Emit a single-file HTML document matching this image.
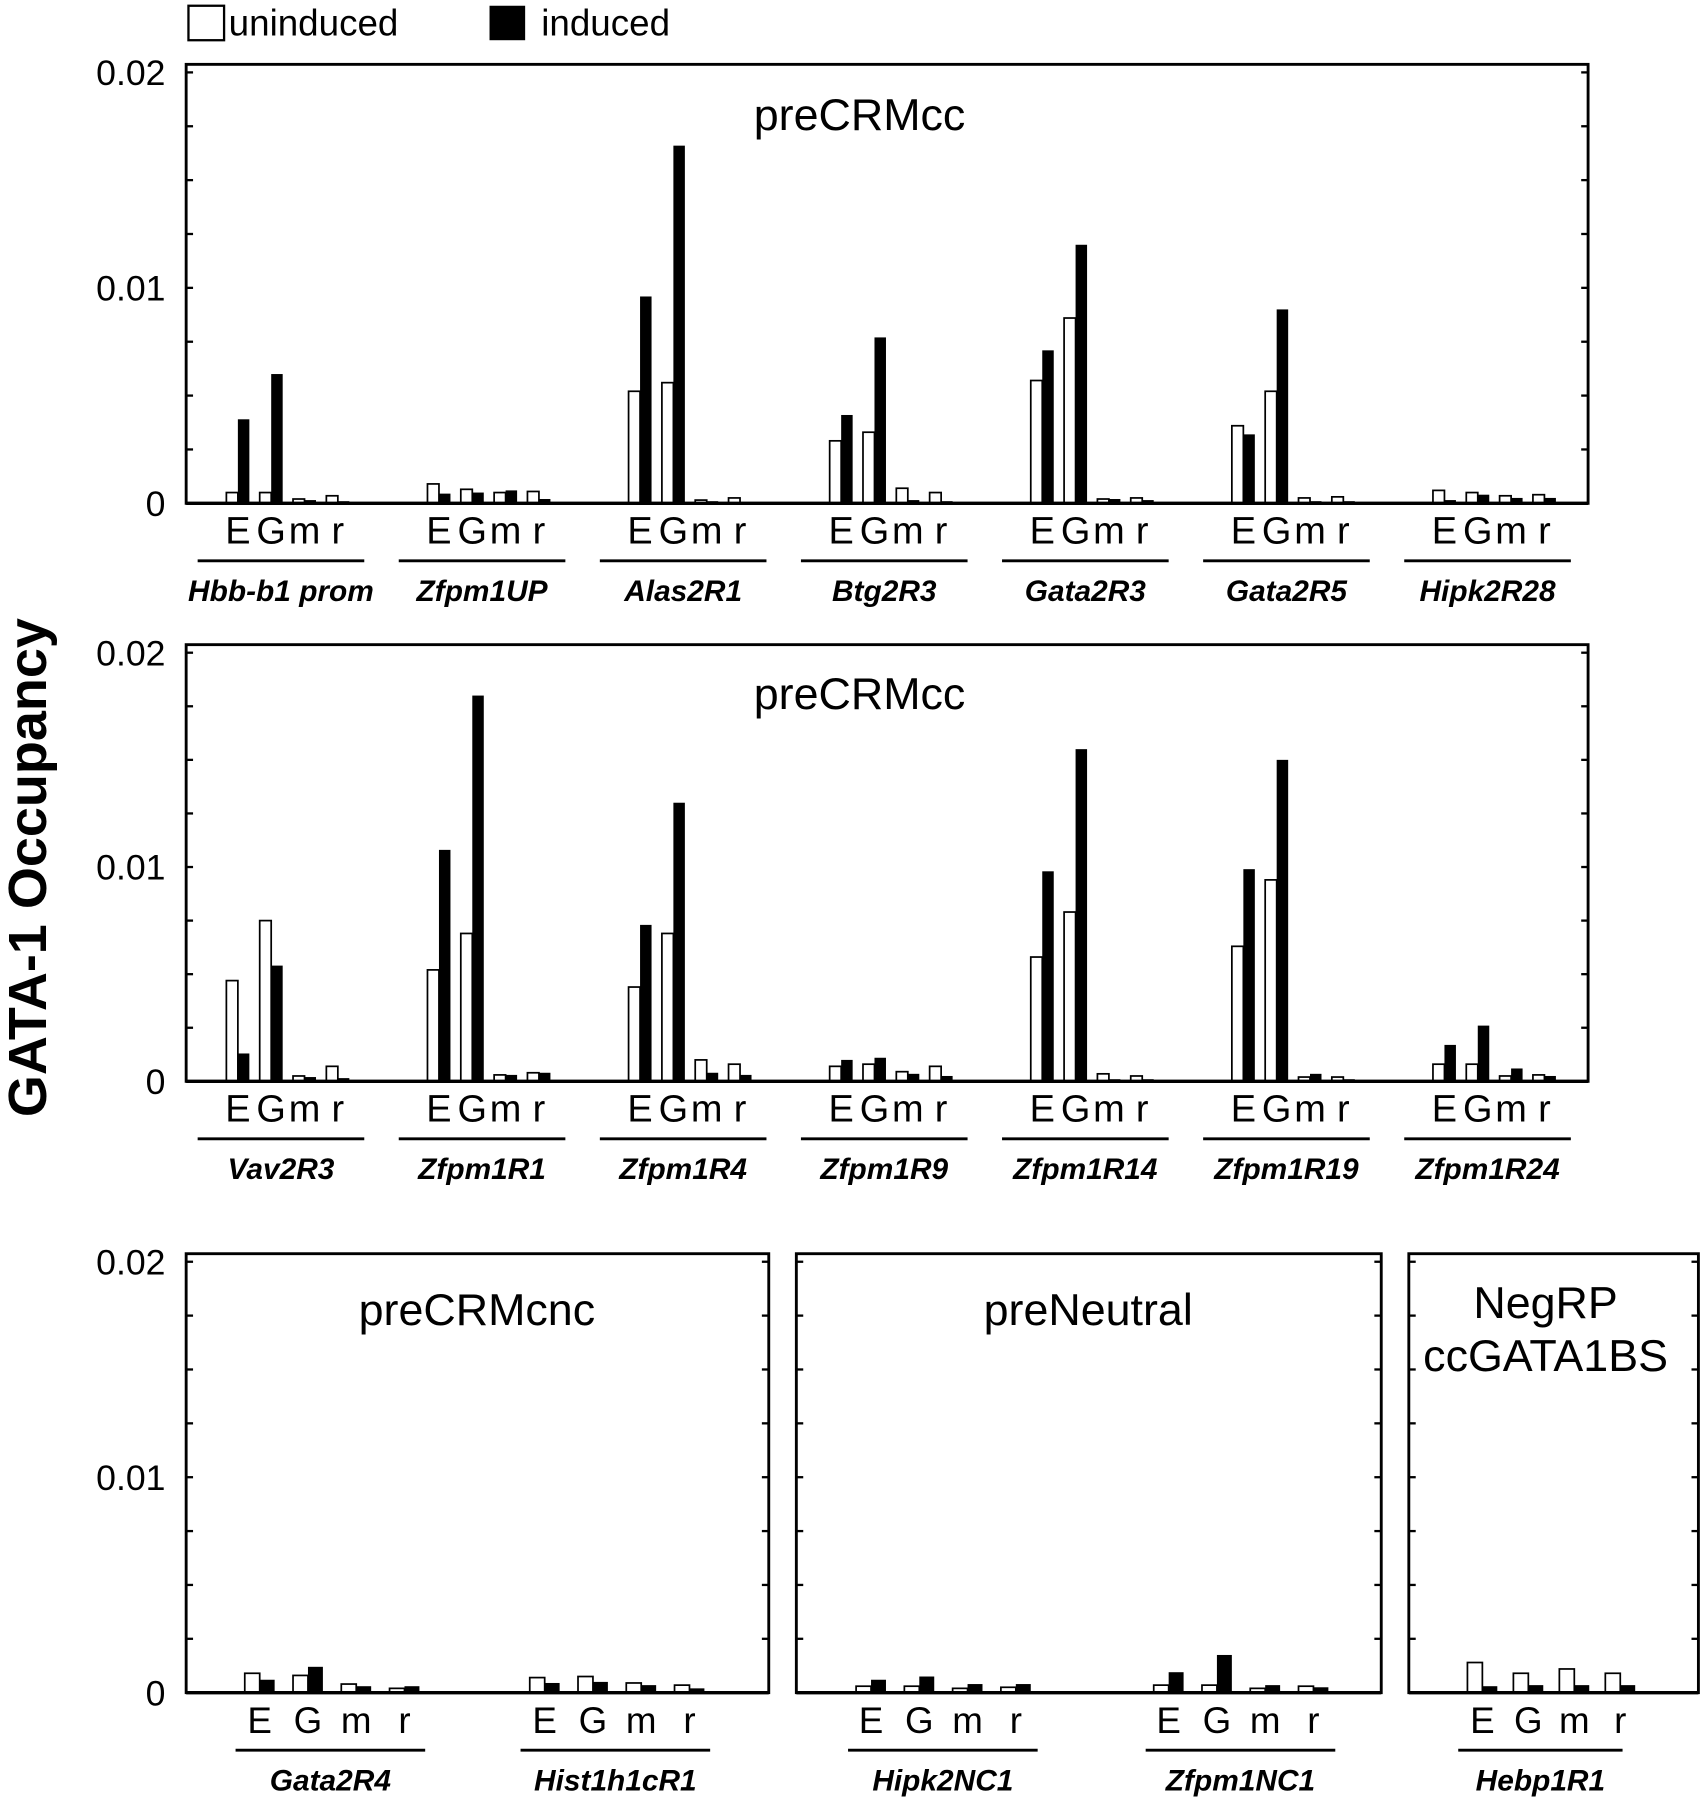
<!DOCTYPE html>
<html><head><meta charset="utf-8"><style>
html,body{margin:0;padding:0;background:#fff}
svg{display:block}
text{font-family:"Liberation Sans",sans-serif;fill:#000}
</style></head><body>
<svg id="chart" xmlns="http://www.w3.org/2000/svg" width="1703" height="1800" viewBox="0 0 1482 1566.4" preserveAspectRatio="none">
<g>
<rect x="164" y="5" width="31" height="30" fill="#fff" stroke="#000" stroke-width="2"/>
<text x="199" y="31" font-size="32">uninduced</text>
<rect x="426" y="5" width="31" height="30" fill="#000"/>
<text x="471" y="31" font-size="32">induced</text>
</g>
<text transform="translate(40,755) rotate(-90)" text-anchor="middle" font-size="47" font-weight="bold">GATA-1 Occupancy</text>
</svg>
<script>
// values in units of 0.001; each group: [E_un,E_ind,G_un,G_ind,m_un,m_ind,r_un,r_ind]
const groups1 = ["Hbb-b1 prom","Zfpm1UP","Alas2R1","Btg2R3","Gata2R3","Gata2R5","Hipk2R28"];
const values1 = [
 [0.5,3.9,0.5,6.0,0.2,0.15,0.35,0.1],
 [0.9,0.45,0.65,0.5,0.5,0.6,0.55,0.2],
 [5.2,9.6,5.6,16.6,0.15,0.1,0.25,0.05],
 [2.9,4.1,3.3,7.7,0.7,0.15,0.5,0.1],
 [5.7,7.1,8.6,12.0,0.2,0.2,0.25,0.15],
 [3.6,3.2,5.2,9.0,0.25,0.1,0.3,0.1],
 [0.6,0.15,0.5,0.4,0.35,0.25,0.4,0.25]];
const groups2 = ["Vav2R3","Zfpm1R1","Zfpm1R4","Zfpm1R9","Zfpm1R14","Zfpm1R19","Zfpm1R24"];
const values2 = [
 [4.7,1.3,7.5,5.4,0.25,0.2,0.7,0.15],
 [5.2,10.8,6.9,18.0,0.3,0.3,0.4,0.4],
 [4.4,7.3,6.9,13.0,1.0,0.4,0.8,0.3],
 [0.7,1.0,0.8,1.1,0.45,0.35,0.7,0.25],
 [5.8,9.8,7.9,15.5,0.35,0.1,0.25,0.1],
 [6.3,9.9,9.4,15.0,0.2,0.35,0.2,0.1],
 [0.8,1.7,0.8,2.6,0.25,0.6,0.3,0.25]];
const groups3a = ["Gata2R4","Hist1h1cR1"];
const values3a = [[0.9,0.6,0.8,1.2,0.4,0.3,0.2,0.3],[0.7,0.45,0.75,0.5,0.45,0.35,0.35,0.2]];
const groups3b = ["Hipk2NC1","Zfpm1NC1"];
const values3b = [[0.3,0.6,0.3,0.75,0.2,0.4,0.25,0.4],[0.35,0.95,0.35,1.75,0.2,0.35,0.3,0.25]];
const groups3c = ["Hebp1R1"];
const values3c = [[1.4,0.3,0.9,0.35,1.1,0.35,0.9,0.35]];
const tickLabels = ["0","0.01","0.02"];
const tickValues = [0,10,20];

const NS="http://www.w3.org/2000/svg";
const svg=document.getElementById('chart');
function el(tag,attrs,parent){const e=document.createElementNS(NS,tag);for(const k in attrs)e.setAttribute(k,attrs[k]);(parent||svg).appendChild(e);return e;}

function panel(opt){
  const {x0,x1,yTop,yZero,title,titleX,titleY,groups,values,gStart,gStep,lineW,pairOff,pairStep,barW,showAxis,name,titleLines,letterSize}=opt;
  const g=el('g',{});
  
  
  const y=v=>yZero-(v/20)*(yZero-yTop-7);
  const fr=el('rect',{x:x0,y:yTop,width:x1-x0,height:yZero-yTop,fill:'none',stroke:'#000','stroke-width':2.5},g);
  
  
  for(let v=0;v<=20;v+=2.5){
    const yy=y(v);
    el('line',{x1:x0,x2:x0+6,y1:yy,y2:yy,stroke:'#000','stroke-width':2},g);
    el('line',{x1:x1,x2:x1-6,y1:yy,y2:yy,stroke:'#000','stroke-width':2},g);
  }
  if(showAxis){
    tickValues.forEach((tv,i)=>{
      const t=el('text',{x:x0-18,y:y(tv)+11,'text-anchor':'end','font-size':31},g);
      t.textContent=tickLabels[i];
      
      
    });
  }
  (titleLines||[title]).forEach((tl,i)=>{
    const t=el('text',{x:titleX,y:titleY+i*46,'text-anchor':'middle','font-size':39},g);
    t.textContent=tl;
    
    
  });
  groups.forEach((gn,gi)=>{
    const gs=gStart+gi*gStep;
    const vals=values[gi];
    for(let p=0;p<4;p++){
      const bx=gs+pairOff+p*pairStep;
      const u=el('rect',{x:bx,y:y(vals[p*2]),width:barW,height:yZero-y(vals[p*2]),fill:'#fff',stroke:'#000','stroke-width':1.5},g);
      
      
      const b=el('rect',{x:bx+barW,y:y(vals[p*2+1]),width:barW,height:yZero-y(vals[p*2+1]),fill:'#000'},g);
      
      
      const lt=el('text',{x:bx+barW,y:yZero+35,'text-anchor':'middle','font-size':letterSize||32},g);
      lt.textContent=["E","G","m","r"][p];
      
      
    }
    el('line',{x1:gs,x2:gs+lineW,y1:yZero+50,y2:yZero+50,stroke:'#000','stroke-width':2.5},g);
    const nt=el('text',{x:gs+lineW/2,y:yZero+85,'text-anchor':'middle','font-size':26,'font-style':'italic','font-weight':'bold'},g);
    nt.textContent=gn;
    
    
  });
  el('line',{x1:x0,x2:x1,y1:yZero,y2:yZero,stroke:'#000','stroke-width':3},g);
}
panel({x0:162,x1:1382,yTop:56,yZero:438,titleX:748,titleY:113,title:"preCRMcc",groups:groups1,values:values1,gStart:172,gStep:175,lineW:145,pairOff:25,pairStep:29,barW:10,showAxis:true,name:'panel-top',letterSize:33});
panel({x0:162,x1:1382,yTop:561,yZero:941,titleX:748,titleY:617,title:"preCRMcc",groups:groups2,values:values2,gStart:172,gStep:175,lineW:145,pairOff:25,pairStep:29,barW:10,showAxis:true,name:'panel-middle',letterSize:33});
panel({x0:162,x1:669,yTop:1091,yZero:1473,titleX:415,titleY:1153,title:"preCRMcnc",groups:groups3a,values:values3a,gStart:205,gStep:248,lineW:165,pairOff:8,pairStep:42,barW:13,showAxis:true,name:'panel-precrmcnc'});
panel({x0:693,x1:1202,yTop:1091,yZero:1473,titleX:947,titleY:1153,title:"preNeutral",groups:groups3b,values:values3b,gStart:738,gStep:259,lineW:165,pairOff:7,pairStep:42,barW:13,showAxis:false,name:'panel-preneutral'});
panel({x0:1226,x1:1478,yTop:1091,yZero:1473,titleX:1345,titleY:1147,titleLines:["NegRP","ccGATA1BS"],groups:groups3c,values:values3c,gStart:1269,gStep:0,lineW:143,pairOff:8,pairStep:40,barW:13,showAxis:false,name:'panel-negrp'});
</script>
</body></html>
